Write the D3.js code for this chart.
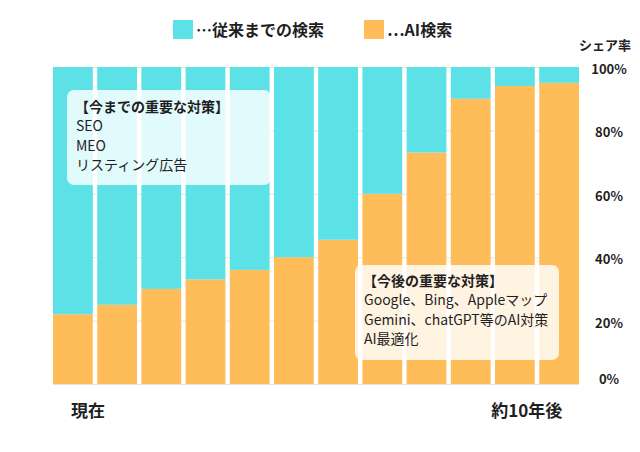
<!DOCTYPE html>
<html>
<head>
<meta charset="utf-8">
<script src="https://cdn.jsdelivr.net/npm/d3@7"></script>
<style>
  html, body { margin: 0; padding: 0; background: #ffffff; }
  svg { display: block; font-family: "Noto Sans CJK JP", "Noto Sans", sans-serif; }
</style>
</head>
<body>
<svg id="chart" width="640" height="452"></svg>
<script>
// ---- data ----
const categories = ["1", "2", "3", "4", "5", "6", "7", "8", "9", "10", "11", "12"];
const aiSearch = [22, 25, 30, 33, 36, 40, 45.5, 60, 73, 90, 94, 95];
const traditionalSearch = [78, 75, 70, 67, 64, 60, 54.5, 40, 27, 10, 6, 5];
const yTicks = [0, 20, 40, 60, 80, 100];
const yTickLabels = ["0%", "20%", "40%", "60%", "80%", "100%"];
const seriesNames = ["…従来までの検索", "…AI検索"];
const xEndLabels = ["現在", "約10年後"];
const yTitle = "シェア率";
const noteNow = ["【今までの重要な対策】", "SEO", "MEO", "リスティング広告"];
const noteFuture = ["【今後の重要な対策】", "Google、Bing、Appleマップ", "Gemini、chatGPT等のAI対策", "AI最適化"];

// ---- styles ----
const colorTrad = "#5ce1e6";
const colorAI = "#ffbd59";
const textColor = "#1f1f1f";

const svg = d3.select("#chart");
const margin = { left: 53, right: 61, top: 67, bottom: 68 };
const W = 640, H = 452;

const rows = categories.map((c, i) => ({ cat: c, ai: aiSearch[i], trad: traditionalSearch[i] }));
const stack = d3.stack().keys(["ai", "trad"]);
const layers = stack(rows);

const x = d3.scaleBand().domain(categories)
  .range([margin.left, W - margin.right])
  .paddingInner(0.1).paddingOuter(0);
const y = d3.scaleLinear().domain([0, 100]).range([H - margin.bottom, margin.top]);

// gridlines
svg.append("g").selectAll("line").data(yTicks).join("line")
  .attr("x1", margin.left).attr("x2", W - margin.right)
  .attr("y1", d => y(d) + 0.5).attr("y2", d => y(d) + 0.5)
  .attr("stroke", "#e3e3e3").attr("stroke-width", 1);

// bars
const colorOf = { ai: colorAI, trad: colorTrad };
svg.append("g").selectAll("g").data(layers).join("g")
  .attr("fill", d => colorOf[d.key])
  .selectAll("rect").data(d => d).join("rect")
  .attr("x", d => x(d.data.cat))
  .attr("width", x.bandwidth())
  .attr("y", d => y(d[1]))
  .attr("height", d => y(d[0]) - y(d[1]));

// right-side y labels
const yLab = svg.append("g").attr("font-size", 13).attr("font-weight", 700).attr("fill", textColor);
yLab.selectAll("text").data(yTicks).join("text")
  .attr("x", 609)
  .attr("text-anchor", "middle")
  .attr("dominant-baseline", "central")
  .attr("y", d => Math.min(Math.max(y(d) + 1.5, 68), 378))
  .text((d, i) => yTickLabels[i]);

svg.append("text")
  .attr("x", 605).attr("y", 50)
  .attr("text-anchor", "middle")
  .attr("font-size", 13).attr("font-weight", 700).attr("fill", textColor)
  .text(yTitle);

// legend
const legendItems = [
  { name: seriesNames[0], color: colorTrad, x: 173 },
  { name: seriesNames[1], color: colorAI, x: 364 }
];
const lg = svg.append("g");
legendItems.forEach(it => {
  lg.append("rect").attr("x", it.x).attr("y", 20).attr("width", 20).attr("height", 19).attr("fill", it.color);
  lg.append("text").attr("x", it.x + 23).attr("y", 36)
    .attr("font-size", 16).attr("font-weight", 700).attr("fill", textColor)
    .text(it.name);
});

// x end labels
svg.append("text").attr("x", x(categories[0]) + 18).attr("y", 416.5)
  .attr("font-size", 17).attr("font-weight", 700).attr("fill", textColor)
  .text(xEndLabels[0]);
svg.append("text").attr("x", x(categories[11]) + 23).attr("y", 416.5)
  .attr("text-anchor", "end")
  .attr("font-size", 17).attr("font-weight", 700).attr("fill", textColor)
  .text(xEndLabels[1]);

// annotation boxes
function note(lines, bx, by, bw, bh, tx, ty0) {
  const g = svg.append("g");
  g.append("rect").attr("x", bx).attr("y", by).attr("width", bw).attr("height", bh)
    .attr("rx", 7).attr("ry", 7)
    .attr("fill", "#ffffff").attr("fill-opacity", 0.82);
  g.selectAll("text").data(lines).join("text")
    .attr("x", (d, i) => i === 0 ? tx - 1 : tx)
    .attr("y", (d, i) => ty0 + i * 19.3)
    .attr("font-size", 14)
    .attr("font-weight", (d, i) => i === 0 ? 700 : 400)
    .attr("fill", textColor)
    .text(d => d);
}
note(noteNow, 67, 90, 204, 95, 76, 112);
note(noteFuture, 355, 265, 204, 95, 364, 286);
</script>
</body>
</html>
